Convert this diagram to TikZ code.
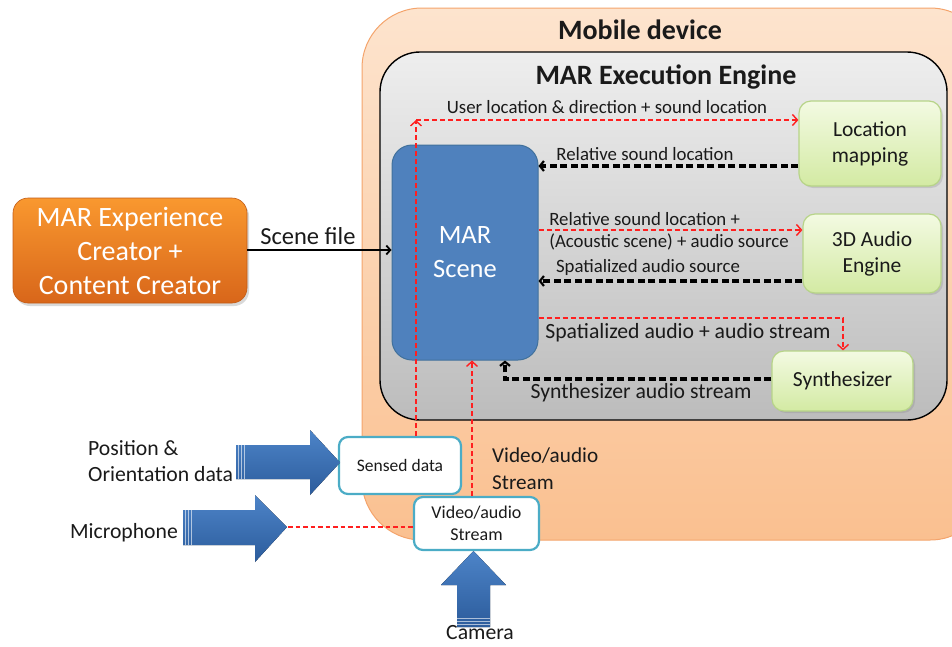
\documentclass[tikz,border=0pt]{standalone}
\usepackage{fontspec}
\setmainfont{Carlito}
\usetikzlibrary{arrows.meta,shadows,calc}

\definecolor{peachtop}{HTML}{FDE4CE}
\definecolor{peachbot}{HTML}{FAC090}
\definecolor{peachline}{HTML}{F4A46C}
\definecolor{graytop}{HTML}{EEEEEE}
\definecolor{graybot}{HTML}{BCBCBC}
\definecolor{sceneblue}{HTML}{4F81BD}
\definecolor{sceneline}{HTML}{41719C}
\definecolor{greentop}{HTML}{F3FAE2}
\definecolor{greenbot}{HTML}{D3EAA3}
\definecolor{greenline}{HTML}{B7D488}
\definecolor{orangetop}{HTML}{F9982F}
\definecolor{orangebot}{HTML}{D8661A}
\definecolor{aqua}{HTML}{4BACC6}
\definecolor{arrowtop}{HTML}{4D84C8}
\definecolor{arrowbot}{HTML}{2C5C9C}
\definecolor{flowred}{HTML}{FF1F1F}
\definecolor{txt}{HTML}{1A1A1A}

\tikzset{
  reddash/.style={flowred, line width=1.5pt, dash pattern=on 5pt off 3pt,
    -{Straight Barb[length=5pt,width=11pt,line width=1.4pt]}},
  blackdash/.style={black, line width=3.2pt, dash pattern=on 7pt off 3.5pt,
    -{Straight Barb[length=4pt,width=10pt,line width=2.2pt]}},
  greenbox/.style={rounded corners=12pt, top color=greentop, bottom color=greenbot,
    draw=greenline, line width=1.2pt, text=txt, align=center, font=\fontsize{21.5}{26}\selectfont,
    inner sep=0pt, drop shadow={shadow xshift=2pt, shadow yshift=-2pt, opacity=0.25}},
  whitebox/.style={rounded corners=9pt, fill=white, draw=aqua, line width=2.2pt,
    text=txt, align=center, inner sep=0pt},
  blockarrow/.style={top color=arrowtop, bottom color=arrowbot, draw=none},
  stripe/.style={white, opacity=0.6, line width=0.6pt},
  flowlabel/.style={text=txt, font=\fontsize{18.8}{22}\selectfont, inner sep=0pt},
  biglabel/.style={text=txt, font=\fontsize{21.7}{25}\selectfont, inner sep=0pt},
}

\begin{document}
\begin{tikzpicture}[x=1pt,y=-1pt]
\useasboundingbox (0,0) rectangle (952,646);

% device and engine containers
\shade[top color=peachtop, bottom color=peachbot, draw=peachline, line width=1pt,
  rounded corners=60pt] (362,8) rectangle (990,540);
\node[font=\fontsize{28}{32}\selectfont\bfseries, text=txt] (devtitle) at (640,30) {Mobile device};
\shade[top color=graytop, bottom color=graybot, draw=black, line width=1.4pt,
  rounded corners=40pt] (380,52) rectangle (947,420);
\node[font=\fontsize{28}{32}\selectfont\bfseries, text=txt] (engtitle) at (666,77) {MAR Execution Engine};

% main blocks
\node[rounded corners=20pt, fill=sceneblue, draw=sceneline, line width=1pt,
  minimum width=146pt, minimum height=215pt, inner sep=0pt, text=white, align=center,
  font=\fontsize{26.5}{34}\selectfont] (scene) at (465,252.5) {MAR\\Scene};
\node[greenbox, minimum width=142pt, minimum height=85pt] (locmap) at (870,143.5) {Location\\mapping};
\node[greenbox, minimum width=138pt, minimum height=79pt] (audio) at (872,253.5) {3D Audio\\Engine};
\node[greenbox, minimum width=141pt, minimum height=60pt] (synth) at (842.5,381) {Synthesizer};

\node[rounded corners=15pt, top color=orangetop, bottom color=orangebot, draw=orangebot!90!black,
  line width=0.6pt, minimum width=234pt, minimum height=105pt, inner sep=0pt, text=white,
  align=center, font=\fontsize{28}{34}\selectfont,
  drop shadow={shadow xshift=2pt, shadow yshift=-3pt, opacity=0.3}] (creator) at (130,250.5)
  {MAR Experience\\Creator +\\Content Creator};

\node[whitebox, minimum width=122pt, minimum height=57pt, font=\fontsize{17.5}{20}\selectfont] (sensed) at (400,465.5) {Sensed data};
\node[whitebox, minimum width=125pt, minimum height=53pt, font=\fontsize{18}{22}\selectfont] (video) at (476.5,523.5) {Video/audio\\Stream};

% scene file
\draw[black, line width=1.8pt, -{Straight Barb[length=4pt,width=9pt]}] (creator.east |- 0,250) -- (scene.west |- 0,250)
  node[pos=0.42, above=4pt, text=txt, inner sep=0pt, font=\fontsize{24.5}{28}\selectfont] {Scene file};

% sensed data to location mapping
\coordinate (corner) at (416,120);
\draw[reddash] (sensed.north -| corner) -- (corner);
\draw[reddash] (corner) -- (locmap.west |- corner);
\node[flowlabel] (lbl1) at (607,107) {User location \& direction + sound location};

% location mapping back to scene
\draw[blackdash] (locmap.west |- 0,166) -- (scene.east |- 0,166);
\node[flowlabel] (lbl2) at (645,154) {Relative sound location};

% scene to 3D audio and back
\draw[reddash] (scene.east |- 0,230) -- (audio.west |- 0,230);
\node[flowlabel, align=left, font=\fontsize{18.8}{22}\selectfont] (lbl3) at (669,231) {Relative sound location +\\(Acoustic scene) + audio source};
\draw[blackdash] (audio.west |- 0,281) -- (scene.east |- 0,281);
\node[flowlabel] (lbl4) at (648,267) {Spatialized audio source};

% scene to synthesizer and back
\draw[reddash] (scene.east |- 0,318) -| (synth.north -| 843,0);
\node[biglabel] (lbl5) at (688,333) {Spatialized audio + audio stream};
\draw[blackdash] (synth.west |- 0,379) -| (scene.south -| 505,0);
\node[biglabel] (lbl6) at (641,393) {Synthesizer audio stream};

% video/audio stream up to scene
\draw[reddash] (video.north -| 472,0) -- (scene.south -| 472,0);
\node[biglabel, align=left, anchor=north west, font=\fontsize{21.2}{27}\selectfont] (lbl7) at (492,448) {Video/audio\\Stream};

% input block arrows
\fill[blockarrow] (236,445) -- (310,445) -- (310,430) -- (340,462.5) -- (310,495) -- (310,479) -- (236,479) -- cycle;
\foreach \sx in {238.5,241.5,244.5} \draw[stripe] (\sx,445) -- (\sx,479);
\fill[blockarrow] (183,510) -- (255,510) -- (255,495) -- (287,527) -- (255,562) -- (255,545) -- (183,545) -- cycle;
\foreach \sx in {185.5,188.5,191.5} \draw[stripe] (\sx,510) -- (\sx,545);
\fill[blockarrow] (457,627) -- (457,585) -- (441,585) -- (473.5,551) -- (506,585) -- (490,585) -- (490,627) -- cycle;
\foreach \sy in {618.5,621.5,624.5} \draw[stripe] (457,\sy) -- (490,\sy);
\coordinate (mictip) at (288,527);
\draw[flowred, line width=1.8pt, dash pattern=on 4.5pt off 3pt] (mictip) -- (video.west |- mictip);

\node[biglabel, align=left, anchor=west, font=\fontsize{21.7}{26}\selectfont] (posl) at (88,461) {Position \&\\Orientation data};
\node[biglabel] (micl) at (124,533) {Microphone};
\node[biglabel] (caml) at (480,633) {Camera};
\end{tikzpicture}
\end{document}
